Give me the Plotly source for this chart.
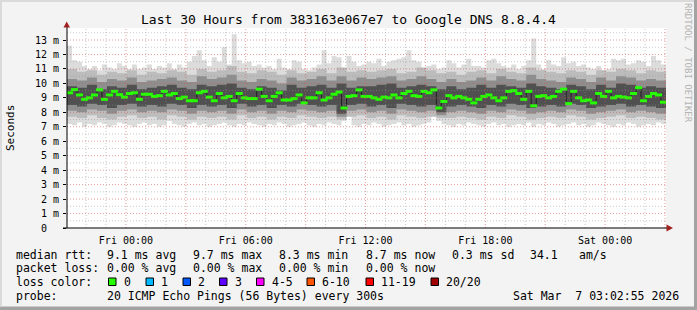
import plotly.graph_objects as go
from datetime import datetime, timedelta

# ---------------- data (milliseconds) ----------------
start = datetime(2026, 3, 5, 21, 2, 55)
end = datetime(2026, 3, 7, 3, 2, 55)

median_ms = [
    9.35, 9.57, 9.2, 8.9, 9.0, 9.2, 9.55, 8.9, 9.2, 9.45, 9.22, 9.05, 9.3, 9.35, 8.9,
    9.25, 9.25, 9.1, 9.15, 9.45, 9.2, 9.3, 8.95, 9.05, 8.8, 8.8, 9.35, 9.45, 9.05, 8.8,
    9.3, 9.0, 9.1, 8.8, 9.3, 9.0, 8.95, 8.95, 9.6, 9.1, 8.8, 9.1, 9.35, 8.85, 8.85,
    8.95, 9.2, 8.65, 9.0, 9.0, 9.35, 8.85, 9.0, 9.25, 9.4, 8.3, 9.1, 9.15, 9.55, 9.1,
    9.1, 9.0, 8.9, 9.05, 9.0, 9.2, 9.0, 9.3, 9.45, 9.15, 9.1, 9.45, 9.35, 9.55, 8.3,
    8.75, 9.15, 9.0, 9.1, 9.0, 8.9, 8.65, 8.9, 9.1, 9.2, 9.0, 8.8, 9.0, 9.45, 9.5,
    9.3, 8.9, 9.45, 8.45, 9.1, 9.15, 9.0, 9.1, 9.45, 9.6, 8.6, 9.45, 9.0, 8.8, 8.85,
    8.65, 9.3, 9.1, 9.45, 9.0, 9.1, 9.05, 9.0, 9.3, 9.7, 8.8, 9.1, 9.3, 9.2, 8.7,
]
smoke_max_ms = [
    12.6, 11.6, 11.5, 11.2, 11.0, 11.2, 10.9, 11.3, 11.1, 11.0, 11.4, 11.2, 11.0, 11.3, 11.0,
    11.1, 11.3, 11.0, 11.2, 11.1, 11.4, 11.0, 11.3, 11.1, 11.5, 11.9, 12.3, 11.6, 11.2, 11.8,
    11.5, 12.5, 11.3, 13.4, 11.6, 11.4, 11.5, 11.2, 11.3, 11.1, 11.2, 11.0, 11.7, 11.1, 11.0,
    11.6, 11.5, 11.0, 10.9, 11.1, 11.3, 12.3, 11.4, 11.9, 11.8, 11.0, 11.9, 11.5, 11.2, 11.3,
    11.5, 11.4, 11.7, 11.2, 11.5, 11.6, 11.7, 11.8, 12.3, 11.6, 11.5, 11.0, 11.2, 11.3, 11.0,
    11.1, 11.6, 11.4, 11.1, 11.3, 11.7, 11.2, 11.2, 11.1, 11.6, 11.7, 11.4, 11.2, 11.1, 11.3,
    11.0, 11.2, 11.6, 13.1, 11.3, 11.0, 11.6, 11.3, 11.2, 11.8, 11.4, 11.5, 11.2, 11.3, 11.1,
    11.0, 11.2, 10.9, 11.0, 11.7, 11.6, 11.7, 11.3, 11.4, 11.6, 11.5, 11.2, 11.9, 11.6, 11.3,
]
smoke_min_ms = [
    7.2, 7.1, 7.3, 7.0, 7.2, 7.1, 7.3, 7.2, 7.0, 7.1, 7.3, 7.2, 7.1, 7.0, 7.2,
    7.3, 7.1, 7.2, 7.0, 7.1, 7.4, 7.2, 7.1, 7.0, 7.2, 7.3, 7.1, 7.2, 7.0, 7.1,
    7.2, 7.3, 7.1, 7.0, 7.2, 7.1, 7.3, 7.2, 7.1, 7.0, 7.2, 7.1, 7.3, 7.2, 7.0,
    7.1, 7.2, 7.3, 7.1, 7.0, 7.2, 7.1, 7.3, 7.2, 7.1, 7.4, 7.9, 7.1, 7.0, 7.2,
    7.1, 7.3, 7.2, 7.0, 7.1, 7.2, 7.3, 7.1, 7.2, 7.0, 7.1, 7.2, 7.3, 8.0, 7.4,
    7.2, 7.1, 7.0, 7.2, 7.1, 7.3, 7.2, 7.1, 7.0, 7.2, 7.3, 7.1, 7.2, 7.0, 7.1,
    7.2, 7.1, 7.3, 7.0, 7.2, 7.1, 7.3, 7.2, 7.0, 7.1, 7.2, 7.3, 7.1, 7.2, 7.0,
    7.1, 7.3, 7.2, 7.1, 7.0, 7.2, 7.1, 7.3, 7.2, 7.0, 7.1, 7.2, 7.1, 7.3, 7.2,
]
# inner smoke quantiles (30-minute resolution)
smoke_u2_ms = [
    11.0, 10.8, 10.9, 10.6, 10.8, 10.7, 10.9, 10.6, 10.8, 10.7, 10.9, 10.8, 10.6, 11.0, 10.8,
    10.9, 11.2, 10.8, 10.7, 10.9, 10.8, 10.6, 10.9, 10.7, 10.8, 11.0, 10.7, 11.1, 10.8, 10.9,
    10.8, 10.9, 11.0, 10.7, 10.8, 11.1, 10.9, 10.7, 10.8, 10.6, 10.8, 10.9, 10.7, 11.0, 10.8,
    10.7, 11.1, 10.9, 10.8, 10.7, 10.9, 10.8, 10.6, 10.9, 10.8, 11.0, 10.9, 10.7, 10.9, 10.8,
]
smoke_u3_ms = [
    10.3, 10.2, 10.4, 10.1, 10.3, 10.2, 10.4, 10.1, 10.2, 10.3, 10.4, 10.2, 10.1, 10.5, 10.3,
    10.4, 10.6, 10.2, 10.1, 10.3, 10.2, 10.0, 10.4, 10.2, 10.3, 10.5, 10.2, 10.5, 10.2, 10.4,
    10.3, 10.4, 10.5, 10.2, 10.3, 10.5, 10.3, 10.1, 10.3, 10.1, 10.2, 10.4, 10.2, 10.5, 10.3,
    10.2, 10.6, 10.3, 10.2, 10.1, 10.4, 10.3, 10.1, 10.4, 10.2, 10.5, 10.4, 10.2, 10.3, 10.2,
]
smoke_u4_ms = [
    9.8, 9.7, 9.9, 9.6, 9.8, 9.7, 9.9, 9.6, 9.7, 9.8, 9.9, 9.7, 9.6, 9.9, 9.8,
    9.9, 10.0, 9.7, 9.6, 9.8, 9.7, 9.5, 9.9, 9.7, 9.8, 9.9, 9.7, 10.0, 9.7, 9.8,
    9.8, 9.9, 10.0, 9.7, 9.8, 9.9, 9.8, 9.6, 9.8, 9.6, 9.7, 9.9, 9.7, 9.9, 9.8,
    9.7, 10.0, 9.8, 9.7, 9.6, 9.9, 9.8, 9.6, 9.9, 9.7, 10.0, 9.9, 9.7, 9.8, 9.7,
]
smoke_l4_ms = [
    8.5, 8.4, 8.6, 8.5, 8.3, 8.5, 8.6, 8.4, 8.5, 8.4, 8.6, 8.5, 8.3, 8.5, 8.4,
    8.5, 8.3, 8.6, 8.4, 8.5, 8.3, 8.5, 8.4, 8.6, 8.5, 8.4, 8.5, 7.9, 8.5, 8.6,
    8.4, 8.5, 8.3, 8.6, 8.5, 8.4, 8.5, 8.0, 8.4, 8.5, 8.4, 8.3, 8.5, 8.4, 8.6,
    8.5, 8.3, 8.4, 8.5, 8.4, 8.6, 8.5, 8.3, 8.4, 8.5, 8.6, 8.4, 8.5, 8.4, 8.3,
]
smoke_l3_ms = [
    8.1, 8.0, 8.2, 8.1, 7.9, 8.1, 8.2, 8.0, 8.1, 8.0, 8.2, 8.1, 7.9, 8.1, 8.0,
    8.1, 7.9, 8.2, 8.0, 8.1, 7.9, 8.1, 8.0, 8.2, 8.1, 8.0, 8.1, 7.7, 8.1, 8.2,
    8.0, 8.1, 7.9, 8.2, 8.1, 8.0, 8.1, 7.8, 8.0, 8.1, 8.0, 7.9, 8.1, 8.0, 8.2,
    8.1, 7.9, 8.0, 8.1, 8.0, 8.2, 8.1, 7.9, 8.0, 8.1, 8.2, 8.0, 8.1, 8.0, 7.9,
]
smoke_l2_ms = [
    7.7, 7.6, 7.8, 7.6, 7.5, 7.7, 7.8, 7.6, 7.7, 7.5, 7.8, 7.7, 7.5, 7.7, 7.6,
    7.7, 7.5, 7.8, 7.6, 7.7, 7.5, 7.7, 7.6, 7.8, 7.7, 7.6, 7.7, 7.5, 7.7, 7.8,
    7.6, 7.7, 7.5, 7.8, 7.7, 7.6, 7.7, 7.6, 7.6, 7.7, 7.6, 7.5, 7.7, 7.6, 7.8,
    7.7, 7.5, 7.6, 7.7, 7.6, 7.8, 7.7, 7.5, 7.6, 7.7, 7.8, 7.6, 7.7, 7.6, 7.5,
]

y_tick_vals = list(range(0, 14))
y_tick_text = ["0\u00a0\u00a0"] + [f"{v} m" for v in range(1, 14)]

title_text = "Last 30 Hours from 383163e067e7 to Google DNS 8.8.4.4"
legend_rows = [
    (254.5, [(16, "median rtt:"), (107, "9.1 ms avg"), (193, "9.7 ms max"), (279, "8.3 ms min"),
             (366, "8.7 ms now"), (452, "0.3 ms sd"), (530, "34.1"), (579, "am/s")]),
    (268, [(16, "packet loss:"), (107, "0.00 % avg"), (193, "0.00 % max"), (279, "0.00 % min"),
           (366, "0.00 % now")]),
    (281.7, [(16, "loss color:")]),
    (295.5, [(16, "probe:"), (107, "20 ICMP Echo Pings (56 Bytes) every 300s"),
             (513, "Sat Mar\u00a0 7 03:02:55 2026")]),
]
loss_labels = ["0", "1", "2", "3", "4-5", "6-10", "11-19", "20/20"]
loss_colors = ["#26ff00", "#00b8ff", "#0059ff", "#5e00ff", "#ff00ff", "#ff5500", "#ff0000", "#a10000"]
loss_box_x = [108.5, 146, 183, 219.5, 256.5, 307, 366, 431]

# ---------------- layout geometry ----------------
W, H = 697, 310
PL, PR, PT, PB = 67, 666, 28, 228
FONT = "DejaVu Sans Mono"
Y_TOP = 13.83


def px(xp):
    return (xp - PL) / (PR - PL)


def py(yp):
    return (PB - yp) / (PB - PT)


def times(n):
    step = (end - start) / n
    return [start + step * i for i in range(n)] + [end]


fig = go.Figure()

bands = [
    (smoke_min_ms, smoke_max_ms, "#dcdcdc"),
    (smoke_l2_ms, smoke_u2_ms, "#bcbcbc"),
    (smoke_l3_ms, smoke_u3_ms, "#8e8e8e"),
    (smoke_l4_ms, smoke_u4_ms, "#505050"),
]
for lo, hi, col in bands:
    xs = times(len(lo))
    fig.add_trace(go.Scatter(x=xs, y=lo + [lo[-1]], mode="lines",
                             line=dict(width=0, shape="hv"), hoverinfo="skip", showlegend=False))
    fig.add_trace(go.Scatter(x=xs, y=hi + [hi[-1]], mode="lines", fill="tonexty", fillcolor=col,
                             line=dict(width=0, shape="hv"), hoverinfo="skip", showlegend=False))

xm = times(len(median_ms))
fig.add_trace(go.Scatter(x=xm, y=median_ms + [median_ms[-1]], mode="lines",
                         line=dict(width=1, color="#202020", shape="hv"),
                         hoverinfo="skip", showlegend=False))
step = (end - start) / len(median_ms)
fig.add_trace(go.Scatter(x=[t + step / 2 for t in xm[:-1]], y=median_ms, mode="markers",
                         marker=dict(symbol="line-ew", size=5,
                                     line=dict(width=3, color="#26ff00")),
                         hoverinfo="skip", showlegend=False))

shapes = []
# horizontal grid
for i in range(1, 28):
    v = i * 0.5
    major = (i % 2 == 0)
    shapes.append(dict(type="line", xref="paper", yref="y", x0=0, x1=1, y0=v, y1=v, layer="above",
                       line=dict(width=1, dash="1px,2px",
                                 color="rgba(210,90,90,0.6)" if major else "rgba(150,150,150,0.5)")))
# vertical grid (every hour, red every 3 hours)
t = datetime(2026, 3, 5, 22, 0, 0)
while t <= end:
    major = (t.hour % 3 == 0)
    shapes.append(dict(type="line", xref="x", yref="paper", x0=t, x1=t, y0=0, y1=1, layer="above",
                       line=dict(width=1, dash="1px,2px",
                                 color="rgba(210,90,90,0.6)" if major else "rgba(150,150,150,0.5)")))
    t += timedelta(hours=1)

# axis lines and arrows
shapes.append(dict(type="line", xref="paper", yref="paper", x0=px(63), x1=px(667), y0=0, y1=0,
                   layer="above", line=dict(color="black", width=1)))
shapes.append(dict(type="line", xref="paper", yref="paper", x0=0, x1=0, y0=0, y1=py(27),
                   layer="above", line=dict(color="black", width=1)))
shapes.append(dict(type="path", xref="paper", yref="paper", layer="above",
                   path=f"M{px(63.5)},{py(27.5)} L{px(70)},{py(27.5)} L{px(66.7)},{py(21.5)} Z",
                   fillcolor="#a02020", line=dict(width=0)))
shapes.append(dict(type="path", xref="paper", yref="paper", layer="above",
                   path=f"M{px(666.5)},{py(224.5)} L{px(666.5)},{py(231.5)} L{px(673)},{py(228)} Z",
                   fillcolor="#a02020", line=dict(width=0)))

# frame
shapes.append(dict(type="rect", xref="paper", yref="paper", x0=px(694), x1=px(697), y0=py(0), y1=py(310),
                   fillcolor="#a3a3a3", line=dict(width=0), layer="below"))
shapes.append(dict(type="rect", xref="paper", yref="paper", x0=px(0), x1=px(697), y0=py(306.5), y1=py(310),
                   fillcolor="#a3a3a3", line=dict(width=0), layer="below"))
shapes.append(dict(type="rect", xref="paper", yref="paper", x0=px(0), x1=px(694), y0=py(0), y1=py(2),
                   fillcolor="#dadada", line=dict(width=0), layer="below"))
shapes.append(dict(type="rect", xref="paper", yref="paper", x0=px(0), x1=px(2), y0=py(0), y1=py(306.5),
                   fillcolor="#dadada", line=dict(width=0), layer="below"))

# loss colour boxes
for bx, col in zip(loss_box_x, loss_colors):
    shapes.append(dict(type="rect", xref="paper", yref="paper", x0=px(bx), x1=px(bx + 7.5),
                       y0=py(285.5), y1=py(278), fillcolor=col, line=dict(color="black", width=1)))

annotations = []


def ann(xp, yp, text, size=11.5, xanchor="left", color="#000000", angle=0):
    annotations.append(dict(x=px(xp), y=py(yp), xref="paper", yref="paper", text=text,
                            showarrow=False, xanchor=xanchor, yanchor="middle", textangle=angle,
                            font=dict(family=FONT, size=size, color=color), borderpad=0))


ann(348.5, 19, title_text, size=13, xanchor="center")
ann(10, 128, "Seconds", size=11, xanchor="center", angle=-90)
ann(688, 63, "RRDTOOL / TOBI OETIKER", size=9, xanchor="center", color="#b4b4b4", angle=90)
for yrow, pieces in legend_rows:
    for xp, txt in pieces:
        ann(xp - 1, yrow, txt)
for bx, lab in zip(loss_box_x, loss_labels):
    ann(bx + 14, 281.7, lab)

x_ticks = [datetime(2026, 3, 6, 0), datetime(2026, 3, 6, 6), datetime(2026, 3, 6, 12),
           datetime(2026, 3, 6, 18), datetime(2026, 3, 7, 0)]

fig.update_layout(
    width=W, height=H,
    margin=dict(l=PL, r=W - PR, t=PT, b=H - PB, pad=0),
    paper_bgcolor="#f3f3f3", plot_bgcolor="#ffffff",
    showlegend=False,
    shapes=shapes, annotations=annotations,
    font=dict(family=FONT, size=10, color="#000000"),
    xaxis=dict(range=[start, end], showgrid=False, zeroline=False, showline=False,
               tickvals=x_ticks, tickformat="%a %H:%M", ticks="", ticklabelstandoff=5,
               tickfont=dict(family=FONT, size=10)),
    yaxis=dict(range=[0, Y_TOP], showgrid=False, zeroline=False, showline=False,
               tickvals=y_tick_vals, ticktext=y_tick_text, ticks="outside", ticklen=3,
               tickcolor="black", ticklabelstandoff=2, tickfont=dict(family=FONT, size=10)),
)

fig.write_html("out.html")
